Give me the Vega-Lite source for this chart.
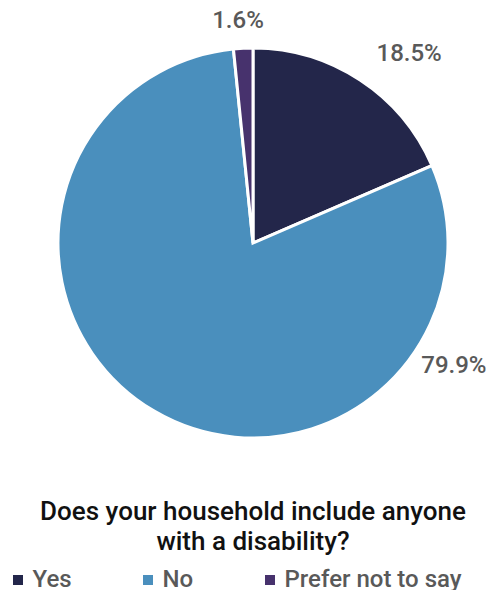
{
  "$schema": "https://vega.github.io/schema/vega-lite/v6.json",
  "width": 472,
  "height": 486,
  "autosize": {"type": "none"},
  "padding": {"left": 17, "top": 0, "right": 0, "bottom": 104},
  "background": "white",
  "config": {"view": {"stroke": null}, "font": "Roboto"},
  "title": {
    "text": ["Does your household include anyone", "with a disability?"],
    "orient": "bottom",
    "anchor": "middle",
    "font": "Roboto",
    "fontSize": 26,
    "fontWeight": 500,
    "color": "#111111",
    "lineHeight": 30,
    "offset": -93
  },
  "data": {
    "values": [
      {"answer": "Yes", "pct": 18.5, "n": 1, "label": "18.5%"},
      {"answer": "No", "pct": 79.9, "n": 2, "label": "79.9%"},
      {"answer": "Prefer not to say", "pct": 1.6, "n": 3, "label": "1.6%"}
    ]
  },
  "encoding": {
    "theta": {"field": "pct", "type": "quantitative", "stack": true},
    "order": {"field": "n", "type": "quantitative"}
  },
  "layer": [
    {
      "mark": {"type": "arc", "outerRadius": 195, "stroke": "white", "strokeWidth": 3},
      "encoding": {
        "color": {
          "field": "answer",
          "type": "nominal",
          "scale": {
            "domain": ["Yes", "No", "Prefer not to say"],
            "range": ["#23264a", "#4a8fbd", "#47326d"]
          },
          "legend": {
            "title": null,
            "orient": "none",
            "direction": "horizontal",
            "legendX": -11,
            "legendY": 568,
            "padding": 0,
            "symbolType": "square",
            "symbolSize": 100,
            "symbolStrokeWidth": 0,
            "labelFont": "Roboto",
            "labelFontSize": 24,
            "labelFontWeight": 500,
            "labelColor": "#595959",
            "labelOffset": 2.5,
            "labelLimit": 400,
            "columnPadding": 64
          }
        }
      }
    },
    {
      "mark": {"type": "text", "radius": 245.5, "thetaOffset": 0.108, "font": "Roboto", "fontSize": 24, "fontWeight": 500, "fill": "#595959", "align": "center", "baseline": "middle"},
      "encoding": {
        "detail": {"field": "answer", "type": "nominal"},
        "text": {"condition": {"test": "datum.answer === 'Yes'", "field": "label", "type": "nominal"}, "value": ""}
      }
    },
    {
      "mark": {"type": "text", "radius": 235.6, "thetaOffset": -1.552, "font": "Roboto", "fontSize": 24, "fontWeight": 500, "fill": "#595959", "align": "center", "baseline": "middle"},
      "encoding": {
        "detail": {"field": "answer", "type": "nominal"},
        "text": {"condition": {"test": "datum.answer === 'No'", "field": "label", "type": "nominal"}, "value": ""}
      }
    },
    {
      "mark": {"type": "text", "radius": 222.5, "thetaOffset": -0.017, "font": "Roboto", "fontSize": 24, "fontWeight": 500, "fill": "#595959", "align": "center", "baseline": "middle"},
      "encoding": {
        "detail": {"field": "answer", "type": "nominal"},
        "text": {"condition": {"test": "datum.answer === 'Prefer not to say'", "field": "label", "type": "nominal"}, "value": ""}
      }
    }
  ]
}
